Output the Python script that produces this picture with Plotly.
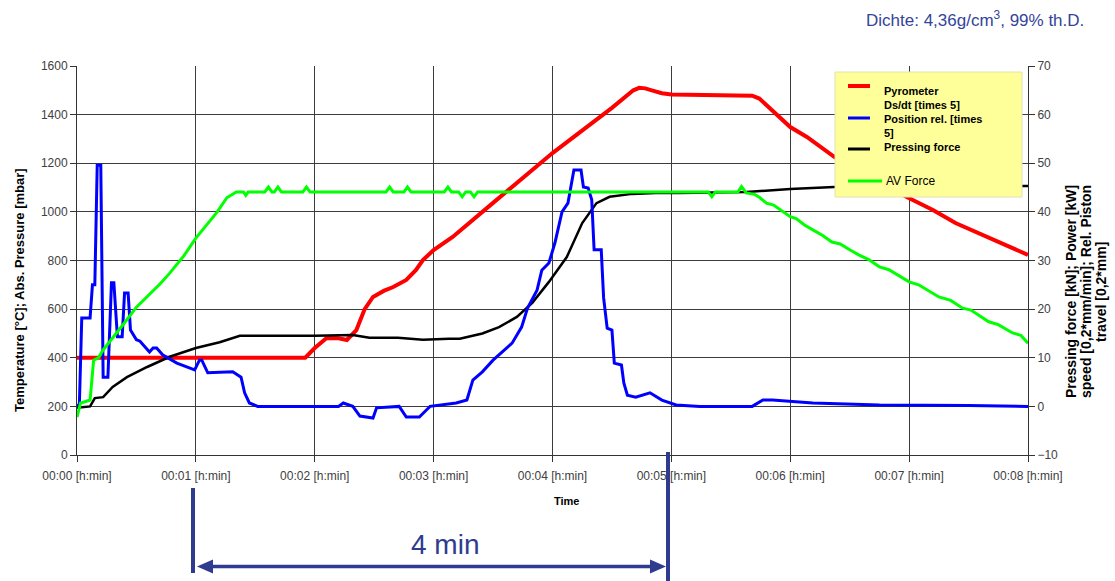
import plotly.graph_objects as go

# ---------------- data (time in minutes) ----------------
x_tick_vals = [0, 1, 2, 3, 4, 5, 6, 7, 8]
x_tick_text = ["00:00 [h:min]", "00:01 [h:min]", "00:02 [h:min]", "00:03 [h:min]",
               "00:04 [h:min]", "00:05 [h:min]", "00:06 [h:min]", "00:07 [h:min]",
               "00:08 [h:min]"]

# Pyrometer temperature (left axis, °C)
t_pyro = [0.00, 1.92, 2.00, 2.10, 2.20, 2.27, 2.35, 2.42, 2.49, 2.58, 2.66, 2.77, 2.85,
          2.91, 3.00, 3.16, 3.50, 4.00, 4.50, 4.56, 4.62, 4.68, 4.73, 4.78, 4.85, 4.92,
          5.00, 5.24, 5.63, 5.68, 5.74, 5.91, 6.00, 6.14, 6.27, 6.37, 6.98, 7.20, 7.39,
          7.68, 8.00]
v_pyro = [400, 400, 440, 481, 480, 473, 514, 600, 650, 675, 691, 720, 760,
          802, 843, 897, 1037, 1242, 1428, 1452, 1478, 1500, 1510, 1508, 1498, 1488,
          1483, 1481, 1481, 1478, 1466, 1390, 1349, 1308, 1263, 1226, 1061, 1008, 954,
          893, 823]

# Position rel. [times 5] (right axis)
t_pos = [0.00, 0.02, 0.04, 0.11, 0.13, 0.15, 0.17, 0.20, 0.22, 0.26, 0.29, 0.31, 0.34,
         0.38, 0.40, 0.43, 0.45, 0.50, 0.53, 0.61, 0.64, 0.67, 0.72, 0.84, 0.99, 1.03,
         1.05, 1.10, 1.31, 1.38, 1.41, 1.45, 1.52, 2.20, 2.24, 2.28, 2.32, 2.38, 2.49,
         2.52, 2.71, 2.77, 2.88, 2.95, 2.97, 3.19, 3.28, 3.33, 3.41, 3.50, 3.58, 3.66,
         3.74, 3.79, 3.87, 3.91, 3.97, 4.02, 4.08, 4.13, 4.18, 4.24, 4.26, 4.30, 4.33,
         4.35, 4.41, 4.43, 4.46, 4.50, 4.52, 4.58, 4.60, 4.63, 4.70, 4.82, 4.92, 5.04,
         5.24, 5.68, 5.77, 5.85, 6.19, 6.75, 7.50, 8.00]
v_pos = [0.0, 0.5, 18.2, 18.2, 25.0, 25.0, 49.6, 49.6, 6.0, 6.0, 25.4, 25.4, 14.3,
         14.3, 23.3, 23.3, 15.7, 13.7, 13.4, 11.2, 12.0, 12.0, 10.6, 8.9, 7.5, 9.5,
         9.5, 6.9, 7.1, 6.0, 2.8, 0.7, 0.0, 0.0, 0.7, 0.3, 0.0, -2.0, -2.4,
         -0.3, 0.0, -2.2, -2.2, -0.5, 0.0, 0.7, 1.3, 5.4, 7.1, 9.5, 11.2, 13.0,
         16.3, 20.2, 23.9, 28.0, 29.5, 33.6, 40.0, 41.8, 48.6, 48.6, 45.1, 44.9, 42.5,
         32.2, 32.2, 22.3, 16.1, 15.7, 8.9, 8.5, 4.8, 2.3, 1.9, 2.8, 1.3, 0.3,
         0.0, 0.0, 1.3, 1.3, 0.7, 0.3, 0.2, 0.0]

# Pressing force (right axis, kN)
t_force = [0.00, 0.11, 0.15, 0.22, 0.30, 0.42, 0.59, 0.78, 1.00, 1.20, 1.37, 1.62, 2.00,
           2.32, 2.46, 2.70, 2.91, 3.13, 3.22, 3.41, 3.55, 3.70, 3.83, 3.97, 4.12, 4.25,
           4.37, 4.48, 4.67, 4.87, 5.07, 5.63, 6.00, 6.37, 7.00, 8.00]
v_force = [-0.3, 0.0, 1.7, 1.9, 4.0, 6.0, 8.1, 10.2, 12.0, 13.2, 14.5, 14.5, 14.5,
           14.7, 14.1, 14.1, 13.7, 13.9, 13.9, 15.0, 16.3, 18.4, 21.3, 25.6, 30.7, 37.7,
           41.8, 43.1, 43.7, 43.9, 43.9, 44.1, 44.7, 45.1, 45.3, 45.3]

# AV Force (right axis)
t_av = [0.00, 0.03, 0.06, 0.11, 0.14, 0.18, 0.22, 0.30, 0.40, 0.50, 0.60, 0.70, 0.78,
        0.90, 1.00, 1.10, 1.18, 1.26, 1.34, 1.40, 1.42, 1.44, 1.58, 1.61, 1.64, 1.66,
        1.69, 1.72, 1.90, 1.93, 1.96, 2.60, 2.63, 2.66, 2.75, 2.78, 2.81, 3.09, 3.12,
        3.15, 3.21, 3.24, 3.27, 3.31, 3.34, 3.37, 5.31, 5.34, 5.37, 5.56, 5.59, 5.63,
        5.70, 5.74, 5.80, 5.86, 5.92, 6.00, 6.05, 6.12, 6.19, 6.27, 6.35, 6.42, 6.50,
        6.58, 6.66, 6.75, 6.83, 6.92, 7.00, 7.08, 7.17, 7.25, 7.35, 7.45, 7.52, 7.60,
        7.67, 7.75, 7.82, 7.87, 7.94, 8.00]
v_av = [-2.2, 0.7, 0.9, 1.3, 9.5, 10.0, 11.6, 14.0, 17.2, 20.4, 22.8, 25.2, 27.4,
        31.0, 34.6, 37.5, 40.0, 42.9, 44.1, 44.1, 43.4, 44.1, 44.1, 45.1, 44.1, 44.1,
        45.1, 44.1, 44.1, 45.1, 44.1, 44.1, 45.1, 44.1, 44.1, 45.1, 44.1, 44.1, 45.1,
        44.1, 44.1, 43.1, 44.1, 44.1, 43.1, 44.1, 44.1, 43.1, 44.1, 44.1, 45.2, 43.9,
        43.6, 43.0, 41.8, 41.4, 40.3, 39.0, 38.6, 37.3, 36.3, 35.2, 33.8, 33.4, 32.2,
        31.1, 30.2, 28.7, 28.1, 26.8, 25.6, 25.0, 23.6, 22.5, 21.8, 20.2, 19.8, 18.5,
        17.4, 16.8, 15.9, 15.1, 14.6, 13.0]

legend_labels = ["Pyrometer", "Ds/dt [times 5]", "Position rel. [times", "5]",
                 "Pressing force", "AV Force"]

# ---------------- figure ----------------
FONT = "Arial, 'Liberation Sans', sans-serif"
W, H = 1115, 581
L, R, T, B = 77, 1028, 66, 455


def px(x):
    return (x - L) / (R - L)


def py(y):
    return (B - y) / (B - T)


fig = go.Figure()
fig.add_trace(go.Scatter(x=t_force, y=v_force, yaxis="y2", mode="lines",
                         line=dict(color="#000000", width=2.5), name="Pressing force"))
fig.add_trace(go.Scatter(x=t_pyro, y=v_pyro, mode="lines",
                         line=dict(color="#FF0000", width=4), name="Pyrometer"))
fig.add_trace(go.Scatter(x=t_pos, y=v_pos, yaxis="y2", mode="lines",
                         line=dict(color="#0000FF", width=3), name="Position rel. [times 5]"))
fig.add_trace(go.Scatter(x=t_av, y=v_av, yaxis="y2", mode="lines",
                         line=dict(color="#00FF00", width=3), name="AV Force"))

axis_common = dict(showline=True, linecolor="#333333", linewidth=1, ticks="outside",
                   tickcolor="#333333", ticklen=6, zeroline=False,
                   tickfont=dict(family=FONT, size=12, color="#404040"))

fig.update_layout(
    width=W, height=H, autosize=False,
    margin=dict(l=L, r=W - R, t=T, b=H - B, pad=0),
    paper_bgcolor="white", plot_bgcolor="white", showlegend=False,
    font=dict(family=FONT),
    xaxis=dict(range=[0, 8], tickvals=x_tick_vals, ticktext=x_tick_text,
               showgrid=True, gridcolor="#3c3c3c", gridwidth=1, ticklabelstandoff=4,
               **axis_common),
    yaxis=dict(range=[0, 1600], dtick=200, showgrid=True, gridcolor="#3c3c3c",
               gridwidth=1, **axis_common),
    yaxis2=dict(range=[-10, 70], dtick=10, overlaying="y", side="right",
                showgrid=False, **axis_common),
)

shapes = []
annots = []

# legend box
shapes.append(dict(type="rect", xref="paper", yref="paper", x0=px(835), x1=px(1022),
                   y0=py(197), y1=py(72), fillcolor="#FFFF99",
                   line=dict(color="#E2E2B0", width=1), layer="above"))
for yy, col, x1, w in [(86, "#FF0000", 870, 4), (118, "#0000FF", 870, 3),
                       (149, "#000000", 870, 3), (181, "#00FF00", 882, 3)]:
    shapes.append(dict(type="line", xref="paper", yref="paper", x0=px(848), x1=px(x1),
                       y0=py(yy), y1=py(yy), line=dict(color=col, width=w), layer="above"))
for txt, yy, bold in zip(legend_labels, [91, 105, 119, 133, 147, 181],
                         [True, True, True, True, True, False]):
    annots.append(dict(xref="paper", yref="paper", x=px(882 if bold else 884), y=py(yy),
                       xanchor="left", yanchor="middle", showarrow=False,
                       text=("<b>%s</b>" % txt) if bold else txt,
                       font=dict(family=FONT, size=11 if bold else 12, color="#000000")))

# axis titles
annots.append(dict(xref="paper", yref="paper", x=px(19), y=py(290), textangle=-90,
                   xanchor="center", yanchor="middle", showarrow=False,
                   text="<b>Temperature [°C]; Abs. Pressure [mbar]</b>",
                   font=dict(family=FONT, size=13, color="#000000")))
for txt, xx in [("Pressing force [kN]; Power [kW]", 1071),
                ("speed [0,2*mm/min]; Rel. Piston", 1086),
                ("travel [0,2*mm]", 1101)]:
    annots.append(dict(xref="paper", yref="paper", x=px(xx), y=py(292), textangle=-90,
                       xanchor="center", yanchor="middle", showarrow=False,
                       text="<b>%s</b>" % txt,
                       font=dict(family=FONT, size=14, color="#000000")))
annots.append(dict(xref="paper", yref="paper", x=px(566), y=py(501), showarrow=False,
                   xanchor="center", yanchor="middle", text="<b>Time</b>",
                   font=dict(family=FONT, size=11, color="#000000")))

# header text
annots.append(dict(xref="paper", yref="paper", x=px(1086), y=py(19), showarrow=False,
                   xanchor="right", yanchor="middle",
                   text="Dichte: 4,36g/cm<sup>3</sup>, 99% th.D.",
                   font=dict(family=FONT, size=17, color="#34449A")))

# 4 min arrow
ARROW = "#2E3B8E"
annots.append(dict(xref="paper", yref="paper", x=px(445), y=py(544), showarrow=False,
                   xanchor="center", yanchor="middle", text="4 min",
                   font=dict(family=FONT, size=28, color=ARROW)))
shapes.append(dict(type="line", xref="paper", yref="paper", x0=px(193), x1=px(193),
                   y0=py(488), y1=py(573), line=dict(color=ARROW, width=4), layer="above"))
shapes.append(dict(type="line", xref="paper", yref="paper", x0=px(668), x1=px(668),
                   y0=py(452), y1=py(582), line=dict(color=ARROW, width=4), layer="above"))
shapes.append(dict(type="line", xref="paper", yref="paper", x0=px(208), x1=px(655),
                   y0=py(566.5), y1=py(566.5), line=dict(color=ARROW, width=3.5),
                   layer="above"))


def tri(x_tip, x_base, yc, half):
    return "M %f,%f L %f,%f L %f,%f Z" % (px(x_tip), py(yc), px(x_base), py(yc - half),
                                          px(x_base), py(yc + half))


shapes.append(dict(type="path", xref="paper", yref="paper", path=tri(197, 213, 566.5, 7),
                   fillcolor=ARROW, line=dict(color=ARROW, width=0), layer="above"))
shapes.append(dict(type="path", xref="paper", yref="paper", path=tri(666, 650, 566.5, 7),
                   fillcolor=ARROW, line=dict(color=ARROW, width=0), layer="above"))

fig.update_layout(shapes=shapes, annotations=annots)

fig.write_html("out.html", config={"displayModeBar": False},
               post_script="document.body.style.margin='0px';")
